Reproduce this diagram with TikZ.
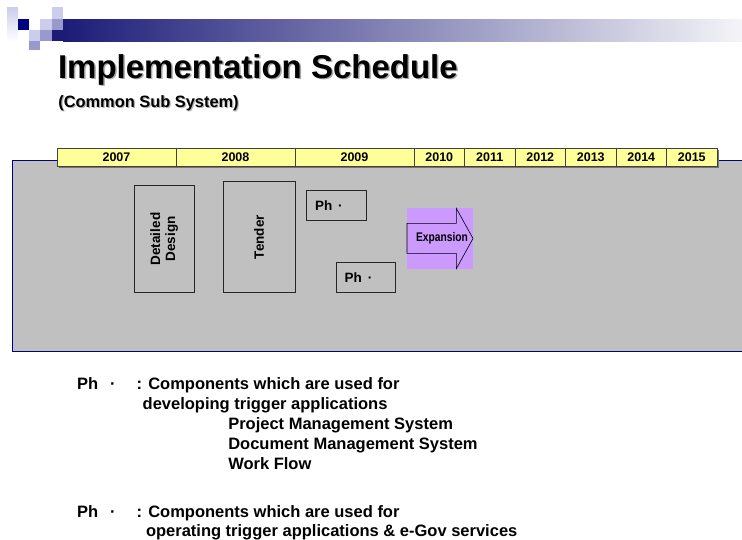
\documentclass[tikz,border=0pt]{standalone}
\usepackage{fontspec}
\setmainfont{Liberation Sans}
\definecolor{panelgray}{RGB}{192,192,192}
\definecolor{panelblue}{RGB}{0,0,128}
\definecolor{yearyellow}{RGB}{255,255,153}
\definecolor{expviolet}{RGB}{204,153,255}
\definecolor{pixnavy}{RGB}{0,0,128}
\definecolor{barnavy}{RGB}{28,28,120}
\definecolor{pixlight}{RGB}{204,204,236}
\definecolor{pixmid}{RGB}{153,153,204}
\definecolor{barend}{RGB}{244,244,248}
\begin{document}
\begin{tikzpicture}[x=1pt,y=-1pt,
  every node/.style={inner sep=0pt, outer sep=0pt},
  yearcell/.style={draw=black!75, line width=0.7pt, fill=yearyellow,
    minimum height=18.4pt, font=\bfseries\fontsize{12.5}{14}\selectfont},
  phasebox/.style={draw=black!85, line width=0.9pt, fill=panelgray},
  phtext/.style={font=\bfseries\fontsize{13.5}{15}\selectfont},
  legend/.style={anchor=base west, font=\bfseries\fontsize{16.5}{20}\selectfont},
  titletext/.style={anchor=base west, font=\bfseries\fontsize{33}{38}\selectfont},
  subtitletext/.style={anchor=base west, font=\bfseries\fontsize{16.4}{20}\selectfont}]
\useasboundingbox (0,0) rectangle (742,539);

% pixel logo and header bar
\shade[top color=pixlight, bottom color=white] (7,7) rectangle (18,41);
\fill[pixnavy] (18,19) rectangle (29,30);
\fill[pixlight] (29,30) rectangle (40,41);
\fill[pixmid] (29,41) rectangle (40,50);
\fill[pixlight] (40,19) rectangle (52,30);
\fill[pixmid] (40,30) rectangle (52,41);
\fill[pixlight] (52,7) rectangle (63,19);
\fill[pixmid] (52,19) rectangle (63,30);
\fill[barnavy] (52,30) rectangle (63,41);
\shade[left color=barnavy, right color=barend] (63,19) rectangle (742,41);

% title and subtitle with soft shadow
\node[titletext, text=black!35] at (59.5,79.5) {Implementation Schedule};
\node[titletext] (title) at (58,78) {Implementation Schedule};
\node[subtitletext, text=black!30] at (59.5,108.2) {(Common Sub System)};
\node[subtitletext] (subtitle) at (58.3,107) {(Common Sub System)};

% schedule panel
\draw[draw=panelblue, line width=1pt, fill=panelgray] (12.3,160.7) rectangle (746,351.5);

% year ruler
\fill[black!55] (58.5,149.8) rectangle (718.5,168.3);
\foreach \yr/\cx/\w in {2007/116.5/119, 2008/235.5/119, 2009/354.5/119,
    2010/439.25/50.5, 2011/489.75/50.5, 2012/540.25/50.5,
    2013/590.75/50.5, 2014/641.25/50.5, 2015/691.75/50.5}
  \node[yearcell, minimum width=\w pt] (y\yr) at (\cx,157.5) {\yr};

% phases
\node[phasebox, rotate=90, minimum width=106.6pt, minimum height=59.7pt,
  align=center, phtext] (design) at (164.15,239) {Detailed\\Design};
\node[phasebox, rotate=90, minimum width=110.6pt, minimum height=71.7pt,
  phtext] (tender) at (259.15,237) {Tender};
\node[phasebox, minimum height=30pt, text width=43pt, inner xsep=8.3pt,
  align=left, phtext] (ph1) at (336.5,205.7) {Ph\hspace{6pt}·};
\node[phasebox, minimum height=30pt, text width=43pt, inner xsep=8.3pt,
  align=left, phtext] (ph2) at (366,277.3) {Ph\hspace{6pt}·};

% expansion arrow
\node[fill=expviolet, minimum width=66pt, minimum height=60.4pt] (exp) at (440,238.5) {};
\draw[fill=expviolet, line width=0.6pt, line join=miter]
  (407,223.3) -- (456.3,223.3) -- (456.3,208.3) -- (473,238.5)
  -- (456.3,268.7) -- (456.3,253.3) -- (407,253.3) -- cycle;
\node[font=\bfseries\fontsize{12.5}{14}\selectfont] (explabel) at (442,238.5)
  {\scalebox{0.82}[1]{Expansion}};

% legend
\node[legend] (lg1ph) at (77,389.5) {Ph\hspace{12pt}·};
\node[legend] (lg1a) at (136.7,389.5) {: Components which are used for};
\node[legend] (lg1b) at (142.7,409.5) {developing trigger applications};
\node[legend] (lg1c) at (228.3,429.5) {Project Management System};
\node[legend] (lg1d) at (228.3,449.5) {Document Management System};
\node[legend] (lg1e) at (228.3,469.5) {Work Flow};
\node[legend] (lg2ph) at (77,517.5) {Ph\hspace{12pt}·};
\node[legend] (lg2a) at (136.7,517.5) {: Components which are used for};
\node[legend] (lg2b) at (146,536.5) {operating trigger applications \& e-Gov services};
\end{tikzpicture}
\end{document}
